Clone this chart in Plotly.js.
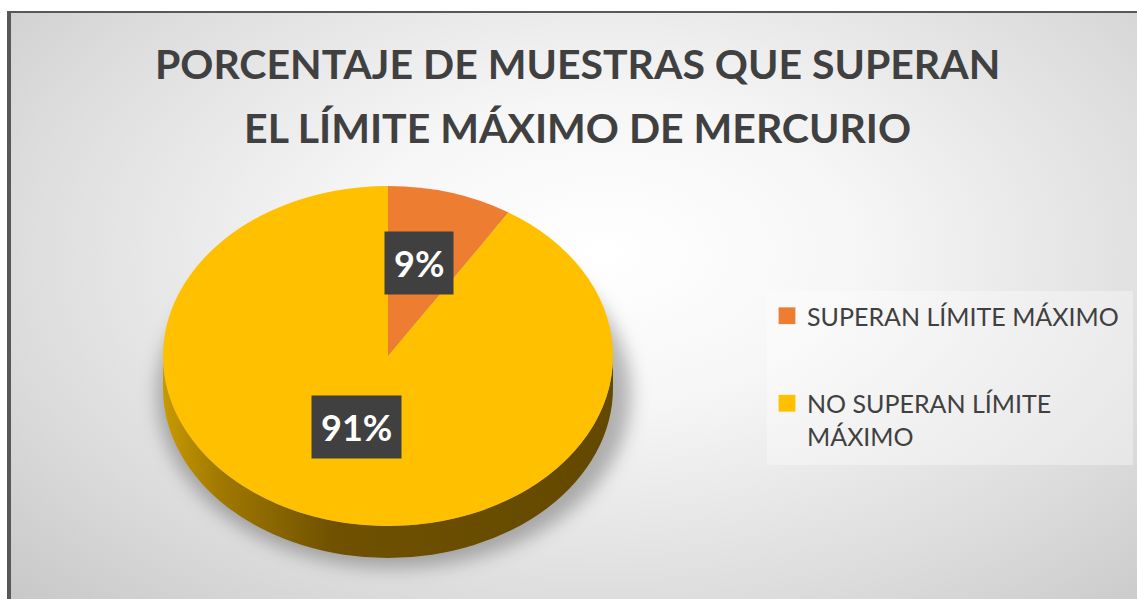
<!DOCTYPE html>
<html>
<head>
<meta charset="utf-8">
<script src="https://cdn.plot.ly/plotly-3.0.1.min.js"></script>
<style>
  html, body { margin: 0; padding: 0; background: #ffffff; width: 1137px; height: 599px; overflow: hidden; }
  #bg { position: absolute; left: 7px; top: 11px; width: 1140px; height: 600px;
        border-left: 4px solid #585858; border-top: 2px solid #585858;
        background: radial-gradient(ellipse 75% 85% at 52% 40%, #ffffff 0%, #f6f6f6 30%, #dcdcdc 70%, #c6c6c6 100%); }
  #deco { position: absolute; left: 0; top: 0; }
  #chart { position: absolute; left: 0; top: 0; width: 1137px; height: 599px; }
</style>
</head>
<body>
<div id="bg"></div>
<svg id="deco" width="1137" height="599"></svg>
<div id="chart"></div>
<script>
// ---- data ----
const titleText = "PORCENTAJE DE MUESTRAS QUE SUPERAN<br>EL LÍMITE MÁXIMO DE MERCURIO";
const categories = ["SUPERAN LÍMITE MÁXIMO", "NO SUPERAN LÍMITE<br>MÁXIMO"];
const values = [9, 91];
const colors = ["#ED7D31", "#FFC000"];

// ---- geometry (page pixels) ----
const W = 1137, H = 599;
const CX = 388, CY = 356, RX = 225, RY = 170, DEPTH = 32;
const SY = RY / RX;

// decorative 3D side + shadow
(function drawDeco() {
  const svg = document.getElementById('deco');
  const ns = 'http://www.w3.org/2000/svg';
  svg.innerHTML =
    '<defs>' +
    '<linearGradient id="side" x1="0" y1="0" x2="1" y2="0">' +
    '<stop offset="0" stop-color="#c89a00"/>' +
    '<stop offset="0.12" stop-color="#a27a00"/>' +
    '<stop offset="0.38" stop-color="#6f5100"/>' +
    '<stop offset="1" stop-color="#634800"/>' +
    '</linearGradient>' +
    '<filter id="blur" x="-20%" y="-20%" width="140%" height="140%"><feGaussianBlur stdDeviation="9"/></filter>' +
    '</defs>';
  const sh = document.createElementNS(ns, 'ellipse');
  sh.setAttribute('cx', CX + 6); sh.setAttribute('cy', CY + DEPTH + 6);
  sh.setAttribute('rx', RX + 12); sh.setAttribute('ry', RY + 4);
  sh.setAttribute('fill', 'rgba(0,0,0,0.28)'); sh.setAttribute('filter', 'url(#blur)');
  svg.appendChild(sh);
  const p = document.createElementNS(ns, 'path');
  const d = 'M' + (CX - RX) + ',' + CY + ' L' + (CX - RX) + ',' + (CY + DEPTH) +
            ' A' + RX + ',' + RY + ' 0 0 0 ' + (CX + RX) + ',' + (CY + DEPTH) +
            ' L' + (CX + RX) + ',' + CY +
            ' A' + RX + ',' + RY + ' 0 0 1 ' + (CX - RX) + ',' + CY + ' Z';
  p.setAttribute('d', d); p.setAttribute('fill', 'url(#side)');
  svg.appendChild(p);
})();

// percent labels placed at mid-angle of each slice
const total = values.reduce((a, b) => a + b, 0);
const annotations = [];
let cum = 0;
values.forEach((v, i) => {
  const mid = (cum + v / 2) / total * 2 * Math.PI;
  cum += v;
  const k = 0.5;
  const px = CX + k * RX * Math.sin(mid);
  const py = CY - k * RY * Math.cos(mid);
  annotations.push({
    x: px / W, y: 1 - py / H, xref: 'paper', yref: 'paper',
    xanchor: 'center', yanchor: 'middle', yshift: 11,
    text: '<b>' + Math.round(v / total * 100) + '%</b>', showarrow: false,
    font: { family: 'Lato, sans-serif', size: 36, color: '#ffffff' },
    bgcolor: '#404040', borderpad: 9
  });
});

const trace = {
  type: 'pie',
  labels: categories,
  values: values,
  sort: false,
  direction: 'clockwise',
  rotation: 0,
  marker: { colors: colors, line: { width: 0 } },
  textinfo: 'none',
  hoverinfo: 'label+percent',
  domain: { x: [(CX - RX) / W, (CX + RX) / W], y: [1 - (CY + RX) / H, 1 - (CY - RX) / H] }
};

const layout = {
  width: W, height: H,
  margin: { l: 0, r: 0, t: 0, b: 0 },
  paper_bgcolor: 'rgba(0,0,0,0)',
  plot_bgcolor: 'rgba(0,0,0,0)',
  title: {
    text: titleText,
    font: { family: 'Lato, sans-serif', size: 41, color: '#404040', weight: 'bold' },
    x: 0.508, xanchor: 'center', y: 0.868, yanchor: 'top', yref: 'paper'
  },
  showlegend: true,
  legend: {
    x: 767 / W, xanchor: 'left', y: 1 - 293 / H, yanchor: 'top',
    bgcolor: 'rgba(255,255,255,0.35)',
    font: { family: 'Lato, sans-serif', size: 25, color: '#404040' },
    valign: 'top'
  },
  annotations: annotations
};

Plotly.newPlot('chart', [trace], layout, { displayModeBar: false, staticPlot: true }).then(gd => {
  // flatten pie into ellipse
  const tr = gd.querySelector('.pielayer .trace');
  if (tr) {
    const bb = tr.getBBox();
    const cyy = bb.y + bb.height / 2;
    tr.setAttribute('transform', 'translate(0,' + (cyy * (1 - SY)) + ') scale(1,' + SY + ')');
  }
  // title line spacing
  const lines = gd.querySelectorAll('.gtitle tspan.line');
  if (lines.length > 1) lines[1].setAttribute('dy', '1.55em');
  // legend spacing and box
  const sb = gd.querySelector('g.legend g.scrollbox');
  if (sb) sb.removeAttribute('clip-path');
  const items = gd.querySelectorAll('g.legend g.traces');
  if (items.length > 1) {
    const t = items[1].getAttribute('transform') || '';
    const m = t.match(/translate\(([-\d.]+)[ ,]+([-\d.]+)\)/);
    if (m) items[1].setAttribute('transform', 'translate(' + m[1] + ',' + (parseFloat(m[2]) + 52) + ')');
  }
  gd.querySelectorAll('g.legend .legendpoints path').forEach(p => {
    const t = p.getAttribute('transform') || '';
    p.setAttribute('transform', t + ' scale(1.4)');
  });
  const bg = gd.querySelector('g.legend rect.bg');
  if (bg) { bg.setAttribute('width', 366); bg.setAttribute('height', 174); bg.setAttribute('y', -2); }
});
</script>
</body>
</html>
